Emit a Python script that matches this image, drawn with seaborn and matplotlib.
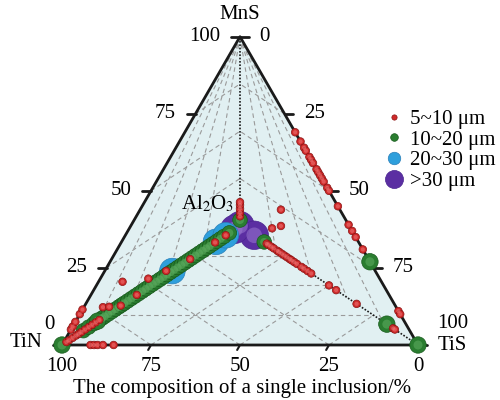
import numpy as np
import pandas as pd
import matplotlib
matplotlib.use('Agg')
import matplotlib.pyplot as plt
import seaborn as sns
from matplotlib.lines import Line2D

sns.set_theme(style='white')
plt.rcParams['font.family'] = ['Liberation Serif', 'DejaVu Serif']
plt.rcParams['mathtext.fontset'] = 'stix'
plt.rcParams['text.color'] = 'black'

# 端点投影位置 (TiN, TiS, MnS, Al2O3 在中间)
VERT = {
    'TiN': np.array([0.0, 0.0]),
    'TiS': np.array([1.0, 0.0]),
    'MnS': np.array([0.5, np.sqrt(3) / 2]),
    'Al2O3': np.array([0.5, 0.335]),
}

# ---- data: compositions (%) ----
# 5~10 um
red_mns_tis_edge = [31, 34, 36, 37, 39, 40, 41, 43, 44, 45, 46, 47, 49, 50, 55, 61, 63, 65, 69, 89, 90]   # TiS %, rest MnS
red_tin_mns_edge = [5, 6, 7.5, 10, 11.5]                                                             # MnS %, rest TiN
red_tin_tis_edge = [8, 9, 10, 11.5, 14.5]                                                            # TiS %, rest TiN
red_al_tis_line = [15, 16, 17.5, 19, 21, 22, 23.5, 25, 26.5, 28, 29, 30.5, 32, 34.5, 36, 38, 40,
                   50, 54, 65.5, 86, 87]                                                             # TiS %, rest Al2O3
red_tin_al_line = [2.5, 4, 6, 8, 9.5, 11, 13, 15, 17, 19, 21, 33, 42, 72, 86, 92]                    # Al2O3 %, rest TiN
red_mns_al_line = [5, 7, 9, 11, 12.5]                                                                # MnS %, rest Al2O3
# (TiN, TiS, MnS, Al2O3)
red_other = [(66, 0, 12, 22), (51.5, 0, 4.5, 44), (77, 0, 5.5, 17.5), (73.5, 0, 3.5, 23),
             (41.5, 0, 2.3, 56.2), (0, 23, 23, 54), (0, 18, 10, 72), (0, 23, 14.4, 62.6)]

# 10~20 um
green_tin_al_line = [12, 15, 18, 20, 22.5, 24, 26, 28, 30, 32, 33.5, 35, 37, 39, 41, 43, 45, 47,
                     49, 51, 53, 55, 57, 59, 61, 63, 65, 67, 69, 71, 73, 75, 77, 79, 81, 83, 85,
                     87, 89, 91, 94]                                                                 # Al2O3 %, rest TiN
green_large = [(100, 0, 0, 0), (0, 100, 0, 0), (0, 73, 27, 0), (0, 82.5, 0, 17.5), (80, 0, 0, 20)]
green_other = [(0, 13.6, 0, 86.4), (0, 0, 3, 97)]

# 20~30 um
blue_tin_al_line = [62, 86.5, 92]

# >30 um
purple_pts = [(0, 0, 0, 100), (0, 8, 0, 92), (3, 0, 0, 97)]

labels = ['5~10 μm', '10~20 μm', '20~30 μm', '>30 μm']
colors = {'5~10 μm': '#d02a2a', '10~20 μm': '#2a7d30', '20~30 μm': '#2e9fdc', '>30 μm': '#5b2ea2'}
edges = {'5~10 μm': '#8a1414', '10~20 μm': '#175a1c', '20~30 μm': '#2a7fb8', '>30 μm': '#4a2590'}
lights = {'5~10 μm': '#ee7a7a', '10~20 μm': '#5fae62', '20~30 μm': '#7cc8f0', '>30 μm': '#9a78d0'}


def comp(tin=0, tis=0, mns=0, al=0):
    return (tin, tis, mns, al)


rows = []
def add(cls, size, c):
    tin, tis, mns, al = [v / 100 for v in c]
    p = tin * VERT['TiN'] + tis * VERT['TiS'] + mns * VERT['MnS'] + al * VERT['Al2O3']
    rows.append({'x': p[0], 'y': p[1], 'cls': cls, 'sz': size})

for c in purple_pts:
    add('>30 μm', 35, c)
for v in blue_tin_al_line:
    add('20~30 μm', 25, comp(tin=100 - v, al=v))
for v in green_tin_al_line:
    add('10~20 μm', 14, comp(tin=100 - v, al=v))
for c in green_other:
    add('10~20 μm', 14, c)
for c in green_large:
    add('10~20 μm', 18, c)
for v in red_mns_tis_edge:
    add('5~10 μm', 8, comp(tis=v, mns=100 - v))
for v in red_tin_mns_edge:
    add('5~10 μm', 8, comp(tin=100 - v, mns=v))
for v in red_tin_tis_edge:
    add('5~10 μm', 8, comp(tin=100 - v, tis=v))
for v in red_al_tis_line:
    add('5~10 μm', 8, comp(tis=v, al=100 - v))
for v in red_tin_al_line:
    add('5~10 μm', 8, comp(tin=100 - v, al=v))
for v in red_mns_al_line:
    add('5~10 μm', 8, comp(mns=v, al=100 - v))
for c in red_other:
    add('5~10 μm', 8, c)

df = pd.DataFrame(rows)
size_area = {8: 30, 14: 110, 18: 140, 25: 340, 35: 420}
hl_area = {k: v * 0.3 for k, v in size_area.items()}

fig = plt.figure(figsize=(5, 4), dpi=100)
ax = fig.add_axes([0, 0, 1, 1])
ax.set_xlim(-62 / 356, 438 / 356)
ax.set_ylim(-55 / 356, 345 / 356)
ax.axis('off')

tin, tis, mns, apex = VERT['TiN'], VERT['TiS'], VERT['MnS'], VERT['Al2O3']
tri = np.array([tin, tis, mns, tin])
ax.fill(tri[:, 0], tri[:, 1], color='#e1f0f2', zorder=0)

# 网格线
gkw = dict(color='#9a9a9a', ls=(0, (4, 3)), lw=0.8, zorder=1)
fr = [0.25, 0.5, 0.75]
for side in (tin, tis):
    for f in fr:
        a = side * (1 - f) + mns * f
        b = apex * (1 - f) + mns * f
        ax.plot([a[0], b[0]], [a[1], b[1]], **gkw)
    for f in [0.2, 0.4, 0.6, 0.8]:
        q = side * (1 - f) + apex * f
        ax.plot([mns[0], q[0]], [mns[1], q[1]], **gkw)
for f in fr:
    for r, p, q in [(apex, tin, tis), (tin, tis, apex), (tis, tin, apex)]:
        a = p * (1 - f) + r * f
        b = q * (1 - f) + r * f
        ax.plot([a[0], b[0]], [a[1], b[1]], **gkw)

# 点线 (Al2O3 顶点的棱)
for v in (mns, tis, tin):
    ax.plot([apex[0], v[0]], [apex[1], v[1]], color='k', ls=(0, (1, 1)), lw=1.2, zorder=2)

ax.plot(tri[:, 0], tri[:, 1], color='k', lw=2, zorder=3, solid_capstyle='round')

for i, cls in enumerate(['>30 μm', '20~30 μm', '10~20 μm', '5~10 μm']):
    sub = df[df['cls'] == cls]
    sns.scatterplot(data=sub, x='x', y='y', size='sz', sizes=size_area, color=colors[cls],
                    edgecolor=edges[cls], linewidth=0.5, legend=False, ax=ax, zorder=4 + i)
    # 球体高光
    sns.scatterplot(data=sub, x='x', y='y', size='sz', sizes=hl_area, color=lights[cls],
                    edgecolor='none', alpha=0.55, legend=False, ax=ax, zorder=4 + i)

# 刻度
fs = 15
tl = 0.025
ticks = [0, 25, 50, 75, 100]
for t in ticks:
    f = t / 100
    # 左边 MnS
    p = tin * (1 - f) + mns * f
    ax.plot([p[0] - tl, p[0]], [p[1], p[1]], color='k', lw=2, zorder=3)
    if t == 0:
        ax.text(p[0] - 0.02, p[1] + 0.058, str(t), ha='right', va='center', fontsize=fs)
    else:
        ax.text(p[0] - 0.055, p[1], str(t), ha='right', va='center', fontsize=fs)
    # 右边 TiS
    p = mns * (1 - f) + tis * f
    ax.plot([p[0], p[0] + tl], [p[1], p[1]], color='k', lw=2, zorder=3)
    ax.text(p[0] + 0.055, p[1] + (0.06 if t == 100 else 0), str(t), ha='left', va='center', fontsize=fs)
    # 底边 TiN
    p = tis * (1 - f) + tin * f
    ax.plot([p[0], p[0] - 0.008], [p[1], p[1] - 0.014], color='k', lw=1.5, zorder=3)
    ax.text(p[0], p[1] - 0.06, str(t), ha='center', va='center', fontsize=fs)

ax.text(mns[0], mns[1] + 0.062, 'MnS', ha='center', va='center', fontsize=fs)
ax.text(tin[0] - 0.055, tin[1] + 0.008, 'TiN', ha='right', va='center', fontsize=fs)
ax.text(tis[0] + 0.055, tis[1] + 0.0, 'TiS', ha='left', va='center', fontsize=fs)
ax.text(apex[0] - 0.09, apex[1] + 0.06, 'Al$_2$O$_3$', ha='center', va='center', fontsize=fs)
ax.text(0.505, -0.12, 'The composition of a single inclusion/%', ha='center', va='center', fontsize=fs)

handles = [Line2D([], [], ls='', marker='o', ms=m, color=colors[l], markeredgecolor=edges[l], mew=0.5)
           for l, m in zip(labels, [3.8, 5.5, 9, 13])]
ax.legend(handles, labels, loc='upper left', bbox_to_anchor=(0.737, 0.7525), frameon=False,
          fontsize=fs, handletextpad=0.1, labelspacing=0.05, borderpad=0, handlelength=1.4)

fig.savefig('out.png', dpi=100, facecolor='white')
